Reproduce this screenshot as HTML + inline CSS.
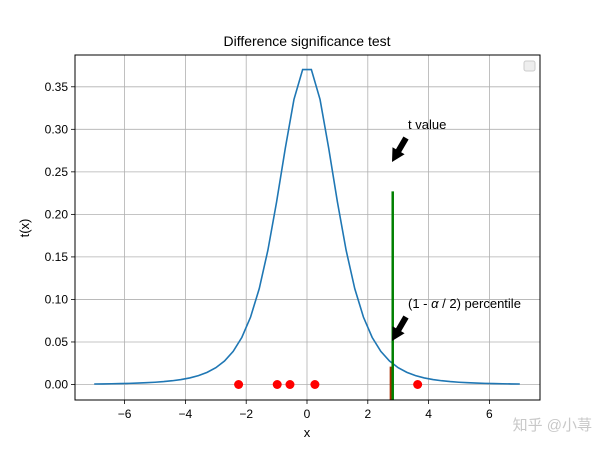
<!DOCTYPE html>
<html><head><meta charset="utf-8"><style>
body{margin:0;background:#fff;}
svg text{font-family:"Liberation Sans","DejaVu Sans",sans-serif;}
</style></head><body>
<svg id="c" width="600" height="450" viewBox="0 0 600 450" xmlns="http://www.w3.org/2000/svg"></svg>
<script>
const xs=[-7,-6.714,-6.429,-6.143,-5.857,-5.571,-5.286,-5,-4.714,-4.429,-4.143,-3.857,-3.571,-3.286,-3,-2.714,-2.429,-2.143,-1.857,-1.571,-1.286,-1,-0.714,-0.429,-0.143,0.143,0.429,0.714,1,1.286,1.571,1.857,2.143,2.429,2.714,3,3.286,3.571,3.857,4.143,4.429,4.714,5,5.286,5.571,5.857,6.143,6.429,6.714,7];
const half=[0.00059,0.00071,0.00087,0.00107,0.00132,0.00165,0.00208,0.00265,0.00341,0.00443,0.00582,0.00775,0.01044,0.01425,0.0197,0.02755,0.0389,0.0554,0.0792,0.1127,0.158,0.2147,0.2778,0.3351,0.3703];
const ys=half.concat(half.slice().reverse());
const samples=[-2.25,-0.98,-0.56,0.26,3.64];
const tValue=2.82, tHeight=0.227;
const pctValue=2.76, pctHeight=0.021;
const xTicks=[-6,-4,-2,0,2,4,6];
const yTicks=[0,0.05,0.1,0.15,0.2,0.25,0.3,0.35];
const L=75,R=540,T=55,B=400;
const X=v=>307+v*30.4;
const Y=v=>384.5-v*850.6;
const svg=document.getElementById('c');
const NS='http://www.w3.org/2000/svg';
function mk(tag,attrs,parent){const e=document.createElementNS(NS,tag);for(const k in attrs)e.setAttribute(k,attrs[k]);(parent||svg).appendChild(e);return e;}
// grid
xTicks.forEach(v=>{
 const g=mk('line',{x1:X(v),x2:X(v),y1:T,y2:B,stroke:'#b0b0b0','stroke-width':0.8});
 
 
 mk('line',{x1:X(v),x2:X(v),y1:B,y2:B+4,stroke:'#000','stroke-width':0.8});
 const t=mk('text',{x:X(v),y:B+18,'text-anchor':'middle','font-size':12,fill:'#000'});
 t.textContent=(v<0?'\u2212'+(-v):v);
 
 
});
yTicks.forEach(v=>{
 const g=mk('line',{x1:L,x2:R,y1:Y(v),y2:Y(v),stroke:'#b0b0b0','stroke-width':0.8});
 
 
 mk('line',{x1:L-4,x2:L,y1:Y(v),y2:Y(v),stroke:'#000','stroke-width':0.8});
 const t=mk('text',{x:L-7,y:Y(v)+4,'text-anchor':'end','font-size':12,fill:'#000'});
 t.textContent=v.toFixed(2);
 
 
});
// curve
const p=mk('polyline',{points:xs.map((x,i)=>X(x)+','+Y(ys[i])).join(' '),fill:'none',stroke:'#1f77b4','stroke-width':1.6});


// lines
const r=mk('line',{x1:X(pctValue),x2:X(pctValue),y1:B,y2:Y(pctHeight),stroke:'#a52a00','stroke-width':2.5});


const g=mk('line',{x1:X(tValue),x2:X(tValue),y1:B,y2:Y(tHeight),stroke:'#008000','stroke-width':2.5});


samples.forEach(v=>{
 const c=mk('circle',{cx:X(v),cy:Y(0),r:4.5,fill:'#ff0000'});
 
 
});
// arrows
function arrow(tx,ty,name){
 const dx=14,dy=-24,len=Math.hypot(dx,dy),ux=dx/len,uy=dy/len,nx=-uy,ny=ux;
 const hb=[tx+ux*13,ty+uy*13];
 const pts=[[tx,ty],[hb[0]+nx*7,hb[1]+ny*7],[hb[0]+nx*3,hb[1]+ny*3],[tx+dx+nx*3,ty+dy+ny*3],[tx+dx-nx*3,ty+dy-ny*3],[hb[0]-nx*3,hb[1]-ny*3],[hb[0]-nx*7,hb[1]-ny*7]];
 const a=mk('polygon',{points:pts.map(q=>q.join(',')).join(' '),fill:'#000'});
 
 
}
arrow(392,162,'t-value-arrow');
arrow(392,341,'percentile-arrow');
</script>
<svg width="600" height="450" style="position:absolute;left:0;top:0" xmlns="http://www.w3.org/2000/svg">
<rect x="75" y="55" width="465" height="345" fill="none" stroke="#000" stroke-width="1"/>
<rect x="524" y="61" width="11" height="10" rx="2" fill="#eee" stroke="#ccc"/>
<text x="307" y="46" text-anchor="middle" font-size="14">Difference significance test</text>
<text x="307" y="437" text-anchor="middle" font-size="13">x</text>
<text x="29" y="228" text-anchor="middle" font-size="13" transform="rotate(-90 29 228)">t(x)</text>
<text x="408" y="129" font-size="13">t value</text>
<text x="408" y="308" font-size="13">(1 - <tspan font-style="italic">α</tspan> / 2) percentile</text>
<text x="592" y="430" text-anchor="end" font-size="15" fill="#c8c8c8" style="font-family:'Liberation Sans','Noto Sans CJK SC',sans-serif">知乎 @小荨</text>
</svg>
</body></html>
